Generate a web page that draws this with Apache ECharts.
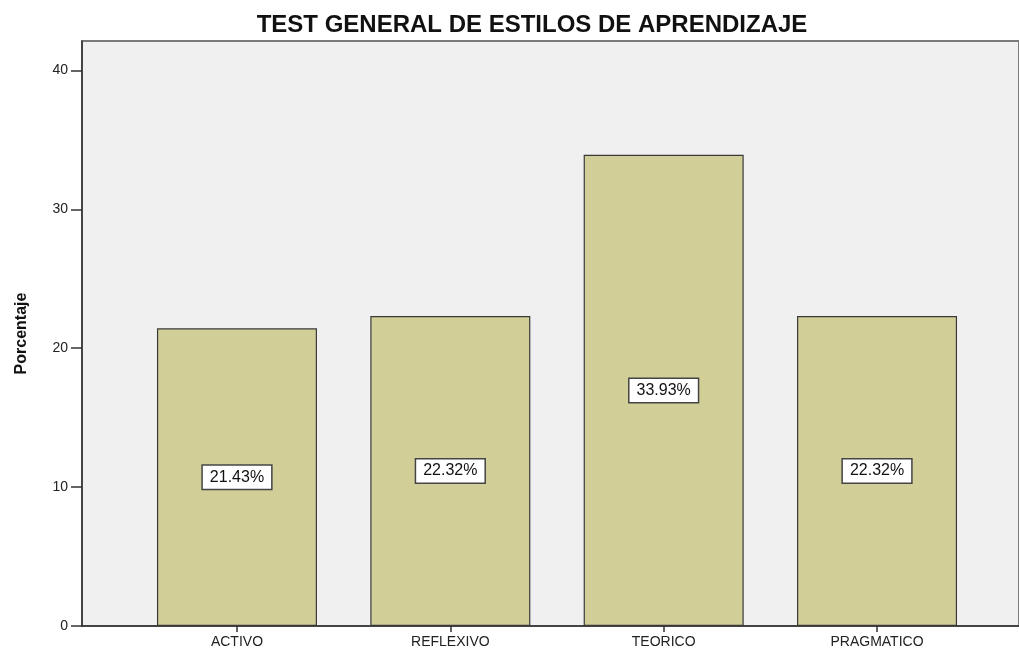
<!DOCTYPE html>
<html>
<head>
<meta charset="utf-8">
<script src="https://cdn.jsdelivr.net/npm/echarts@6/dist/echarts.min.js"></script>
<style>
  html, body { margin: 0; padding: 0; background: #ffffff; }
  #main { width: 1019px; height: 654px; }
</style>
</head>
<body>
<div id="main"></div>
<script>
// datos
const categories = ['ACTIVO', 'REFLEXIVO', 'TEORICO', 'PRAGMATICO'];
const percentages = [21.43, 22.32, 33.93, 22.32];
const yTicks = [0, 10, 20, 30, 40];
const yMax = 42.12;

const myChart = echarts.init(document.getElementById('main'));
myChart.setOption({
  animation: false,
  title: {
    text: 'TEST GENERAL DE ESTILOS DE APRENDIZAJE',
    left: 527,
    textAlign: 'center',
    top: 8,
    textStyle: {
      fontFamily: 'Liberation Sans',
      fontWeight: 'bold',
      fontSize: 24,
      color: '#111111',
    },
  },
  grid: [
    {
      // fondo gris
      left: 82,
      right: -4,
      top: 41,
      bottom: 28,
      show: true,
      backgroundColor: '#f0f0f0',
      borderColor: '#7a7a7a',
      borderWidth: 2,
    },
    {
      // barras
      left: 130.3,
      right: 35.3,
      top: 41,
      bottom: 28,
    },
  ],
  xAxis: [
    {
      gridIndex: 0,
      type: 'value',
      min: 0,
      max: 1,
      axisLine: { show: true, lineStyle: { color: '#333333', width: 1.5 } },
      axisTick: { show: false },
      axisLabel: { show: false },
      splitLine: { show: false },
    },
    {
      gridIndex: 1,
      type: 'category',
      data: categories,
      axisLine: { show: false },
      axisTick: {
        show: true,
        alignWithLabel: true,
        length: 6,
        lineStyle: { color: '#333333', width: 1.5 },
      },
      axisLabel: {
        fontFamily: 'Liberation Sans',
        fontSize: 14,
        color: '#222222',
        margin: 9,
      },
    },
  ],
  yAxis: [
    {
      gridIndex: 0,
      type: 'value',
      min: 0,
      max: yMax,
      name: 'Porcentaje',
      nameLocation: 'middle',
      nameRotate: 90,
      nameGap: 52,
      nameTextStyle: {
        fontFamily: 'Liberation Sans',
        fontWeight: 'bold',
        fontSize: 16,
        color: '#111111',
      },
      axisLine: { show: true, lineStyle: { color: '#333333', width: 1.5 } },
      axisTick: {
        show: true,
        length: 11,
        customValues: yTicks,
        lineStyle: { color: '#333333', width: 1.5 },
      },
      axisLabel: {
        customValues: yTicks,
        fontFamily: 'Liberation Sans',
        fontSize: 14,
        color: '#222222',
        margin: 14,
      },
      splitLine: { show: false },
    },
    {
      gridIndex: 1,
      type: 'value',
      min: 0,
      max: yMax,
      show: false,
    },
  ],
  series: [
    {
      type: 'bar',
      xAxisIndex: 1,
      yAxisIndex: 1,
      data: percentages,
      barWidth: '75%',
      itemStyle: {
        color: '#d2ce98',
        borderColor: '#3a3a3a',
        borderWidth: 1.2,
      },
      label: {
        show: true,
        position: 'inside',
        formatter: (p) => p.value.toFixed(2) + '%',
        fontFamily: 'Liberation Sans',
        fontSize: 16,
        color: '#111111',
        backgroundColor: '#ffffff',
        borderColor: '#444444',
        borderWidth: 1.5,
        padding: [4, 7, 3, 7],
      },
    },
  ],
});
</script>
</body>
</html>
